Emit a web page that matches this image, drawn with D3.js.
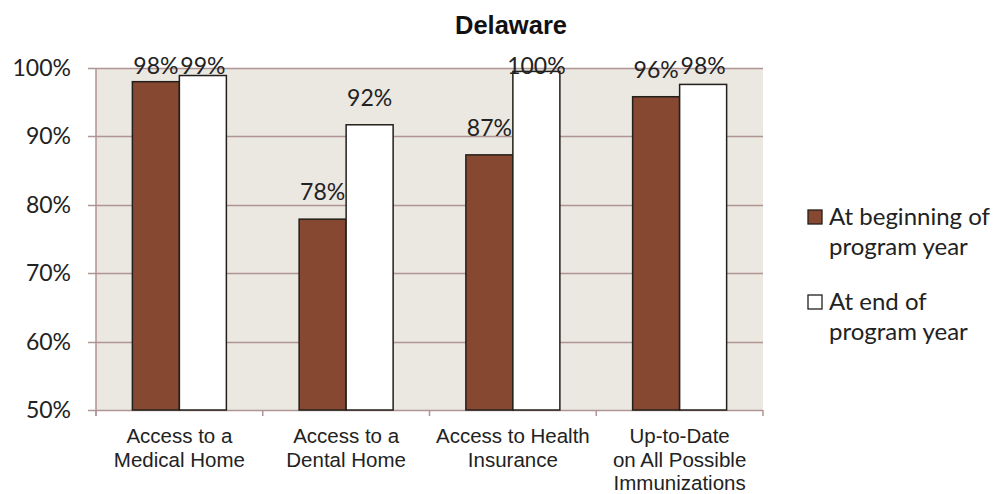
<!DOCTYPE html>
<html><head><meta charset="utf-8">
<script src="https://cdn.jsdelivr.net/npm/d3@7"></script>
<style>body{margin:0;background:#fff}svg{display:block}</style>
</head><body><svg id="c" width="997" height="494"></svg>
<script>
const categories = [["Access to a","Medical Home"],["Access to a","Dental Home"],["Access to Health","Insurance"],["Up-to-Date","on All Possible","Immunizations"]];
const seriesNames = [["At beginning of","program year"],["At end of","program year"]];
const beginning = [98.0, 77.9, 87.3, 95.8];
const endYear = [98.9, 91.7, 99.5, 97.6];
const beginLabels = ["98%","78%","87%","96%"];
const endLabels = ["99%","92%","100%","98%"];
const yTicks = [50,60,70,80,90,100];
const colors = ["#874832","#ffffff"];

const svg = d3.select("#c");
const L=96, R=763, T=68, B=410;
const x = d3.scaleBand().domain(d3.range(categories.length)).range([L,R]).paddingInner(0).paddingOuter(0);
const y = d3.scaleLinear().domain([50,100]).range([B,T]);
const barW = 47;
const cal = "Lato, 'Open Sans', sans-serif";

svg.append("rect").attr("x",L).attr("y",T).attr("width",R-L).attr("height",B-T).attr("fill","#ebe7e1");
svg.append("g").selectAll("line").data(yTicks).join("line")
  .attr("x1",L-8).attr("x2",R).attr("y1",d=>Math.round(y(d))+0.5).attr("y2",d=>Math.round(y(d))+0.5)
  .attr("stroke","#b09595").attr("stroke-width",1.5);
svg.append("line").attr("x1",L).attr("x2",L).attr("y1",T).attr("y2",B+6).attr("stroke","#b09595").attr("stroke-width",1.5);
svg.append("g").selectAll("line").data(d3.range(categories.length+1)).join("line")
  .attr("x1",d=>d<categories.length?x(d):R).attr("x2",d=>d<categories.length?x(d):R)
  .attr("y1",B).attr("y2",B+6).attr("stroke","#b09595").attr("stroke-width",1.5);

svg.append("g").selectAll("text").data(yTicks).join("text")
  .attr("x",71).attr("y",d=>y(d)+8).attr("text-anchor","end")
  .attr("font-family",cal).attr("font-size",23).attr("fill","#222")
  .text(d=>d+"%");

const series=[beginning,endYear];
const labels=[beginLabels,endLabels];
series.forEach((s,si)=>{
  const g=svg.append("g");
  g.selectAll("rect").data(s).join("rect")
    .attr("x",(d,i)=>x(i)+x.bandwidth()/2-barW+si*barW)
    .attr("y",d=>y(d)).attr("width",barW).attr("height",d=>B-y(d))
    .attr("fill",colors[si]).attr("stroke","#231f1a").attr("stroke-width",1.5);
});
series.forEach((s,si)=>{
  svg.append("g").selectAll("text").data(s).join("text")
    .attr("x",(d,i)=>x(i)+x.bandwidth()/2-barW/2+si*barW)
    .attr("y",d=>Math.max(y(d)-19,74)).attr("text-anchor","middle")
    .attr("font-family",cal).attr("font-size",23).attr("fill","#222")
    .text((d,i)=>labels[si][i]);
});

const xl=svg.append("g");
categories.forEach((c,i)=>{
  const t=xl.append("text").attr("text-anchor","middle")
    .attr("font-family","'Liberation Sans', Arial, sans-serif").attr("font-size",20.5).attr("fill","#222");
  c.forEach((line,j)=>t.append("tspan").attr("x",x(i)+x.bandwidth()/2).attr("y",443+j*23.5).text(line));
});

svg.append("text").attr("x",511).attr("y",34).attr("text-anchor","middle")
  .attr("font-family","'Liberation Sans', Arial, sans-serif").attr("font-weight","bold").attr("font-size",25.5).attr("fill","#111").text("Delaware");

const leg=svg.append("g");
seriesNames.forEach((n,i)=>{
  const base=225+i*85;
  leg.append("rect").attr("x",808).attr("y",base-15).attr("width",14).attr("height",14)
    .attr("fill",colors[i]).attr("stroke","#231f1a").attr("stroke-width",1.3);
  const t=leg.append("text").attr("font-family",cal).attr("font-size",24).attr("fill","#222");
  n.forEach((line,j)=>t.append("tspan").attr("x",829).attr("y",base+j*30).text(line));
});
</script></body></html>
